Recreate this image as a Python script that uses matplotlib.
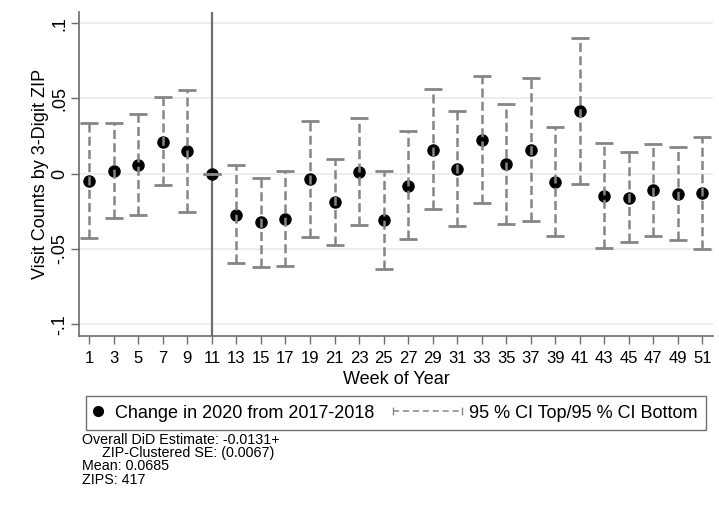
import matplotlib
matplotlib.use("Agg")
import matplotlib.pyplot as plt
import numpy as np
from matplotlib import font_manager
from matplotlib.legend_handler import HandlerLine2D
from matplotlib.lines import Line2D

plt.rcParams["font.family"] = "Liberation Sans"

# week-level DiD estimates and 95% CI
weeks = [1, 3, 5, 7, 9, 11, 13, 15, 17, 19, 21, 23, 25,
         27, 29, 31, 33, 35, 37, 39, 41, 43, 45, 47, 49, 51]
estimate = [-0.0048, 0.0018, 0.0056, 0.0208, 0.0151, 0.0, -0.0276, -0.0323,
            -0.0301, -0.0035, -0.0188, 0.0011, -0.0310, -0.0080, 0.0159, 0.0033,
            0.0222, 0.0064, 0.0159, -0.0055, 0.0416, -0.0150, -0.0161, -0.0110,
            -0.0137, -0.0130]
ci_top = [0.0335, 0.0340, 0.0396, 0.0507, 0.0554, 0.0, 0.0056, -0.0031,
          0.0020, 0.0352, 0.0096, 0.0368, 0.0020, 0.0286, 0.0560, 0.0418,
          0.0649, 0.0465, 0.0636, 0.0308, 0.0903, 0.0206, 0.0142, 0.0195,
          0.0175, 0.0246]
ci_bottom = [-0.0427, -0.0296, -0.0276, -0.0075, -0.0256, 0.0, -0.0591, -0.0617,
             -0.0611, -0.0418, -0.0473, -0.0339, -0.0635, -0.0432, -0.0236, -0.0350,
             -0.0193, -0.0336, -0.0314, -0.0416, -0.0071, -0.0493, -0.0454, -0.0416,
             -0.0438, -0.0502]
event_week = 11

yticks = [-0.1, -0.05, 0, 0.05, 0.1]
ytick_labels = ["-.1", "-.05", "0", ".05", ".1"]

note_lines = [
    "Overall DiD Estimate: -0.0131+",
    "     ZIP-Clustered SE: (0.0067)",
    "Mean: 0.0685",
    "ZIPS: 417",
]

GRAY_CI = "#858585"
AXIS_GRAY = "#6b6b6b"


class CapLineHandler(HandlerLine2D):
    """Legend handle drawn as a long dashed line with end caps."""

    def get_xdata(self, legend, xdescent, ydescent, width, height, fontsize):
        x = np.array([-xdescent - 7.7 * width, -xdescent + 1.9 * width])
        return x, x


est = np.array(estimate)
lo = np.array(ci_bottom)
hi = np.array(ci_top)

fig = plt.figure(figsize=(7.19, 5.11), dpi=100)
ax = fig.add_axes([79 / 719, 175 / 511, 634 / 719, 324 / 511])

ax.axvline(event_week, color="#6e6e6e", lw=1.6, zorder=1)

ax.plot(weeks, est, "o", color="black", markersize=8, zorder=2)
eb = ax.errorbar(weeks, est, yerr=[est - lo, hi - est], fmt="none",
                 ecolor=GRAY_CI, elinewidth=1.8, capsize=6.5, capthick=2,
                 zorder=3)
eb[2][0].set_linestyle((0, (3.6, 1.7)))

ax.set_xlim(0.16, 51.87)
ax.set_ylim(-0.1078, 0.1074)
ax.set_xticks(weeks)
ax.set_yticks(yticks)
ax.set_yticklabels(ytick_labels)
ax.tick_params(axis="x", labelsize=12, length=6, width=1, color=AXIS_GRAY, pad=5)
ax.tick_params(axis="y", labelsize=13, length=6, width=1, color=AXIS_GRAY, pad=2,
               labelrotation=90)
for lab in ax.get_yticklabels():
    lab.set_va("center")

ax.yaxis.grid(True, color="#ececec", lw=1.3)
ax.set_axisbelow(True)
for side in ("top", "right"):
    ax.spines[side].set_visible(False)
for side in ("left", "bottom"):
    ax.spines[side].set_color(AXIS_GRAY)
    ax.spines[side].set_linewidth(1.2)

ax.set_xlabel("Week of Year", fontsize=13)
ax.xaxis.set_label_coords(0.5, -0.108)
ax.set_ylabel("Visit Counts by 3-Digit ZIP", fontsize=13)
ax.yaxis.set_label_coords(-0.048, 0.5)

point_handle = Line2D([], [], marker="o", color="black", linestyle="none",
                      markersize=7)
ci_handle = Line2D([], [], color=GRAY_CI, lw=1.1, dashes=(4, 2.5),
                   marker="|", markersize=6, markeredgewidth=1)
fig.legend([point_handle, ci_handle],
           ["Change in 2020 from 2017-2018", "95 % CI Top/95 % CI Bottom"],
           handler_map={point_handle: HandlerLine2D(numpoints=1),
                        ci_handle: CapLineHandler(numpoints=2)},
           loc="center", bbox_to_anchor=(396 / 719, 1 - 413 / 511),
           ncol=2, fontsize=13, frameon=True, fancybox=False,
           edgecolor="#707070", framealpha=1, borderpad=0.45,
           handlelength=0.4, handletextpad=0.75, columnspacing=4.1)

names = {f.name for f in font_manager.fontManager.ttflist}
if "Liberation Sans Narrow" in names:
    note_font, note_size = "Liberation Sans Narrow", 12
else:
    note_font, note_size = "Liberation Sans", 10.3
fig.text(82 / 719, 1 - 433 / 511, "\n".join(note_lines), ha="left", va="top",
         fontsize=note_size, family=note_font, linespacing=0.93)

fig.savefig("out.png", dpi=100, facecolor="white")
